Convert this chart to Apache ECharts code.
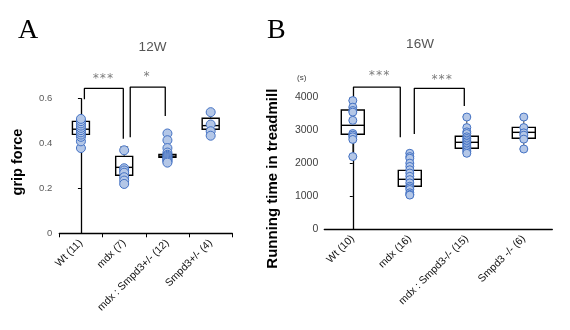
<!DOCTYPE html>
<html><head><meta charset="utf-8">
<script src="https://cdn.jsdelivr.net/npm/echarts@6/dist/echarts.min.js"></script>
<style>html,body{margin:0;padding:0;background:#fff}#c{width:570px;height:330px}</style>
</head><body><div id="c"></div>
<script>
// ---- Panel A (12W, grip force) ----
const catsA = ['Wt (11)', 'mdx (7)', 'mdx : Smpd3+/- (12)', 'Smpd3+/- (4)'];
const pointsA = [
  [0.38, 0.41, 0.43, 0.44, 0.45, 0.46, 0.47, 0.48, 0.49, 0.50, 0.51],
  [0.37, 0.29, 0.28, 0.27, 0.25, 0.235, 0.22],
  [0.445, 0.415, 0.38, 0.36, 0.35, 0.345, 0.34, 0.335, 0.33, 0.325, 0.32, 0.315],
  [0.54, 0.485, 0.455, 0.435]
];
// [min, Q1, median, Q3, max]
const boxA = [
  [0.38, 0.441, 0.464, 0.499, 0.51],
  [0.22, 0.259, 0.294, 0.343, 0.385],
  [0.315, 0.339, 0.344, 0.352, 0.445],
  [0.435, 0.464, 0.48, 0.513, 0.54]
];
const yTicksA = [0, 0.2, 0.4, 0.6];
const bracketsA = [
  [[0.08, 0.597], [0.08, 0.646], [0.98, 0.646], [0.98, 0.422]],
  [[1.14, 0.428], [1.14, 0.652], [1.95, 0.652], [1.95, 0.523]]
];
const starsA = [[0.51, 0.688, '***'], [1.52, 0.696, '*']];

// ---- Panel B (16W, running time) ----
const catsB = ['Wt (10)', 'mdx (16)', 'mdx : Smpd3-/- (15)', 'Smpd3 -/- (6)'];
const pointsB = [
  [3900, 3700, 3600, 3550, 3300, 2900, 2850, 2800, 2720, 2200],
  [2300, 2200, 2150, 2000, 1900, 1800, 1700, 1600, 1500, 1400, 1300, 1250, 1200, 1100, 1050, 1030],
  [3400, 3080, 2950, 2900, 2800, 2750, 2700, 2650, 2600, 2550, 2500, 2450, 2400, 2350, 2300],
  [3400, 3080, 2920, 2850, 2730, 2430]
];
const boxB = [
  [2200, 2876, 3149, 3614, 3900],
  [1030, 1297, 1509, 1782, 2300],
  [2300, 2451, 2633, 2815, 3420],
  [2430, 2754, 2936, 3088, 3420]
];
const yTicksB = [0, 1000, 2000, 3000, 4000];
const bracketsB = [
  [[0.012, 3950], [0.012, 4312], [0.833, 4312], [0.833, 2785]],
  [[1.079, 2885], [1.079, 4273], [1.956, 4273], [1.956, 3735]]
];
const starsB = [[0.46, 4640, '***'], [1.56, 4520, '***']];

const FONT = 'Liberation Sans';
const chart = echarts.init(document.getElementById('c'), null, {renderer: 'canvas'});

function boxRender(w, cap) {
  return function (params, api) {
    const x = api.value(0);
    const pMin = api.coord([x, api.value(1)]);
    const pQ1 = api.coord([x, api.value(2)]);
    const pMed = api.coord([x, api.value(3)]);
    const pQ3 = api.coord([x, api.value(4)]);
    const pMax = api.coord([x, api.value(5)]);
    const cx = pMed[0];
    const ws = {stroke: '#404040', lineWidth: 1};
    const bs = {stroke: '#000', lineWidth: 1.4, fill: '#fff'};
    return {type: 'group', children: [
      {type: 'line', shape: {x1: cx, y1: pMin[1], x2: cx, y2: pQ1[1]}, style: ws},
      {type: 'line', shape: {x1: cx, y1: pQ3[1], x2: cx, y2: pMax[1]}, style: ws},
      {type: 'line', shape: {x1: cx - cap / 2, y1: pMin[1], x2: cx + cap / 2, y2: pMin[1]}, style: ws},
      {type: 'line', shape: {x1: cx - cap / 2, y1: pMax[1], x2: cx + cap / 2, y2: pMax[1]}, style: ws},
      {type: 'rect', shape: {x: cx - w / 2, y: pQ3[1], width: w, height: pQ1[1] - pQ3[1]}, style: bs},
      {type: 'line', shape: {x1: cx - w / 2, y1: pMed[1], x2: cx + w / 2, y2: pMed[1]}, style: {stroke: '#000', lineWidth: 1.4}}
    ]};
  };
}

function panelSeries(g, boxes, points, brackets, stars, boxW, sym) {
  const s = [];
  s.push({type: 'custom', xAxisIndex: g * 2, yAxisIndex: g, renderItem: boxRender(boxW, 8),
    data: boxes.map((b, i) => [i].concat(b)), z: 2, silent: true});
  s.push({type: 'scatter', xAxisIndex: g * 2, yAxisIndex: g, symbol: 'circle', symbolSize: sym,
    itemStyle: {color: '#b4c7e7', borderColor: '#4472c4', borderWidth: 1, opacity: 1},
    data: points.flatMap((arr, i) => arr.map(v => [i, v])), z: 5, silent: true});
  brackets.forEach(br => s.push({type: 'line', xAxisIndex: g * 2 + 1, yAxisIndex: g, data: br,
    symbol: 'none', clip: false, lineStyle: {color: '#000', width: 1.3}, z: 3, silent: true}));
  s.push({type: 'scatter', xAxisIndex: g * 2 + 1, yAxisIndex: g, symbolSize: 0, clip: false,
    data: stars, label: {show: true, formatter: p => p.value[2], position: 'inside',
      color: '#5a5a5a', fontSize: 12, fontFamily: 'DejaVu Sans Mono'}, silent: true});
  return s;
}

const catAxis = (g, cats, ticks) => ({
  type: 'category', gridIndex: g, data: cats, boundaryGap: true,
  axisLine: {lineStyle: {color: '#000', width: 1.3}},
  axisTick: {show: ticks, length: 4, alignWithLabel: false, lineStyle: {color: '#000'}},
  axisLabel: {rotate: 45, fontSize: 10.5, color: '#111', fontFamily: FONT, margin: 8, interval: 0}
});
const valAxisHidden = g => ({type: 'value', gridIndex: g, min: -0.5, max: 3.5, show: false});

chart.setOption({
  animation: false,
  backgroundColor: '#fff',
  title: [
    {text: 'A', left: 13, top: 12, textStyle: {fontFamily: 'Liberation Serif', fontSize: 28, fontWeight: 'normal', color: '#000'}},
    {text: 'B', left: 262, top: 12, textStyle: {fontFamily: 'Liberation Serif', fontSize: 28, fontWeight: 'normal', color: '#000'}},
    {text: '12W', left: 147.5, top: 35, textAlign: 'center', textStyle: {fontFamily: FONT, fontSize: 13.5, fontWeight: 'normal', color: '#555'}},
    {text: '16W', left: 415, top: 32, textAlign: 'center', textStyle: {fontFamily: FONT, fontSize: 13.5, fontWeight: 'normal', color: '#555'}},
    {text: '(s)', left: 292, top: 69, textStyle: {fontFamily: FONT, fontSize: 8, fontWeight: 'normal', color: '#404040'}}
  ],
  grid: [
    {left: 59.3, top: 98.7, width: 173, height: 134.6},
    {left: 324.3, top: 97.3, width: 228, height: 131.7}
  ],
  xAxis: [catAxis(0, catsA, true), valAxisHidden(0), catAxis(1, catsB, false), valAxisHidden(1)],
  yAxis: [
    {type: 'value', gridIndex: 0, min: yTicksA[0], max: yTicksA[yTicksA.length - 1], interval: 0.2,
      name: 'grip force', nameLocation: 'middle', nameGap: 34,
      nameTextStyle: {fontFamily: FONT, fontSize: 14.5, fontWeight: 'bold', color: '#000', padding: [0, 0, 0, 8]},
      axisLine: {show: true, lineStyle: {color: '#000', width: 1.3}},
      axisTick: {show: true, length: 3, lineStyle: {color: '#000'}},
      splitLine: {show: false},
      axisLabel: {fontSize: 9.5, color: '#595959', fontFamily: FONT, margin: 7,
        formatter: v => v === 0 ? '0' : v.toFixed(1)}},
    {type: 'value', gridIndex: 1, min: yTicksB[0], max: yTicksB[yTicksB.length - 1], interval: 1000,
      name: 'Running time in treadmill', nameLocation: 'middle', nameGap: 44,
      nameTextStyle: {fontFamily: FONT, fontSize: 15, fontWeight: 'bold', color: '#000', padding: [0, 31, 0, 0]},
      axisLine: {show: true, lineStyle: {color: '#000', width: 1.3}},
      axisTick: {show: true, length: 3, lineStyle: {color: '#000'}},
      splitLine: {show: false},
      axisLabel: {fontSize: 10.5, color: '#404040', fontFamily: FONT, margin: 6,
        formatter: v => String(v)}}
  ],
  series: [].concat(
    panelSeries(0, boxA, pointsA, bracketsA, starsA, 17, 9),
    panelSeries(1, boxB, pointsB, bracketsB, starsB, 23, 8)
  )
});
</script></body></html>
